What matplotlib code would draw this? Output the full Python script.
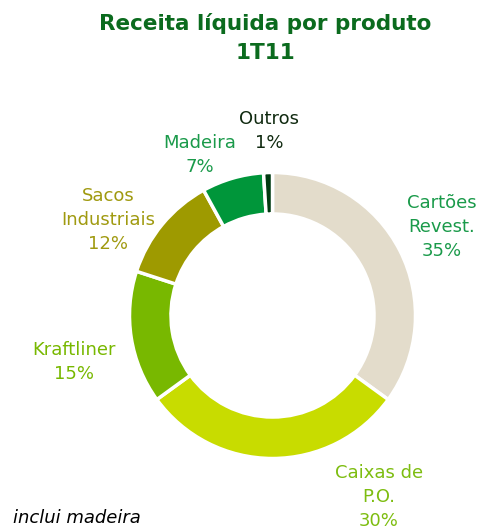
import matplotlib.pyplot as plt

# data
produtos = ['Cartões\nRevest.', 'Caixas de\nP.O.', 'Kraftliner', 'Sacos\nIndustriais', 'Madeira', 'Outros']
participacao = [35, 30, 15, 12, 7, 1]

# style
cores = ['#e3dccb', '#c8dc00', '#78b800', '#9e9a00', '#00963a', '#003a10']
cores_rotulo = ['#1a9a4a', '#7dbd10', '#78b800', '#a09a10', '#1a9a4a', '#102a10']
# label centres in pixels (x, y from top)
pos_rotulo = [(442, 227), (379, 497), (74, 362), (108, 220), (200, 155), (269, 131)]

W, H = 484, 530
fig = plt.figure(figsize=(W / 100, H / 100), dpi=100)

# donut
cx, cy, r = 272.5, 315.5, 143
ax = fig.add_axes([(cx - r) / W, (H - cy - r) / H, 2 * r / W, 2 * r / H])
ax.pie(participacao, colors=cores, startangle=90, counterclock=False, radius=1,
       wedgeprops=dict(width=0.29, edgecolor='white', linewidth=2.5))
ax.set_xlim(-1, 1)
ax.set_ylim(-1, 1)
ax.set_aspect('equal')
ax.axis('off')

# labels
for nome, p, c, (x, y) in zip(produtos, participacao, cores_rotulo, pos_rotulo):
    fig.text(x / W, 1 - y / H, f'{nome}\n{p}%', ha='center', va='center',
             fontsize=13, color=c, linespacing=1.4)

# title
fig.text(265 / W, 1 - 38 / H, 'Receita líquida por produto\n1T11', ha='center', va='center',
         fontsize=15.5, fontweight='bold', color='#0b6b1e', linespacing=1.55)

fig.text(13 / W, 1 - 518 / H, 'inclui madeira', ha='left', va='center',
         fontsize=13, style='italic', color='black')

fig.savefig('out.png', dpi=100)
